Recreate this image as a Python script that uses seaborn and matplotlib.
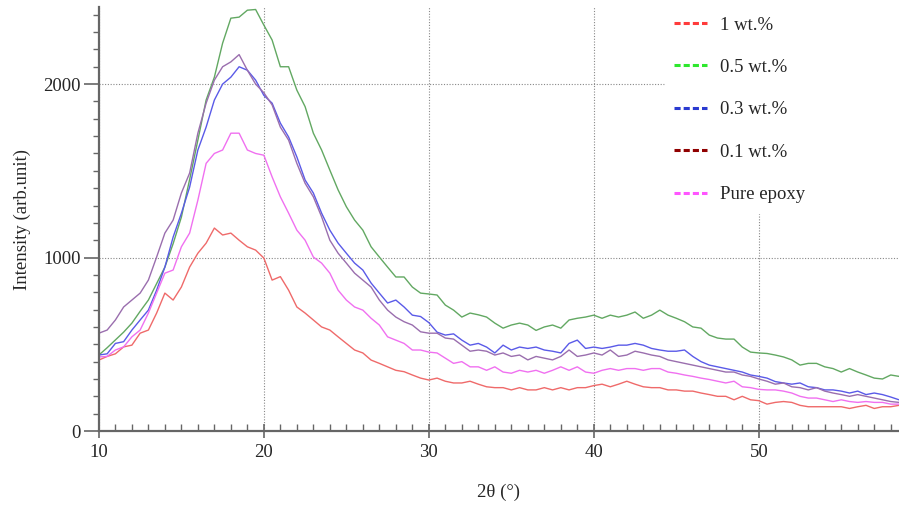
import numpy as np
import pandas as pd
import matplotlib
matplotlib.use("Agg")
import matplotlib.pyplot as plt
from matplotlib.lines import Line2D
from matplotlib.ticker import MultipleLocator
import seaborn as sns

# 2theta grid (deg)
two_theta = np.arange(10, 58.51, 0.5)

red_1wt = [409, 430, 445, 485, 495, 564, 582, 680, 795, 755, 830, 945, 1025, 1083, 1170, 1130,
           1141, 1100, 1062, 1043, 997, 870, 890, 812, 715, 680, 640, 600, 582, 543, 505, 467,
           450, 409, 390, 370, 350, 342, 323, 305, 294, 305, 287, 277, 277, 287, 270, 255,
           250, 250, 237, 250, 237, 237, 250, 237, 250, 237, 250, 250, 262, 270, 255, 270,
           287, 270, 255, 250, 250, 237, 237, 230, 230, 219, 210, 200, 200, 180, 200, 180,
           175, 155, 165, 170, 165, 148, 140, 140, 140, 140, 140, 130, 140, 148, 130, 140,
           140, 148]

green_05wt = [438, 480, 525, 570, 622, 690, 755, 850, 945, 1080, 1233, 1450, 1677, 1908, 2040, 2236,
              2380, 2386, 2426, 2430, 2340, 2254, 2100, 2100, 1965, 1870, 1717, 1620, 1504, 1390, 1293, 1216,
              1158, 1062, 1003, 945, 888, 888, 830, 795, 790, 784, 726, 697, 657, 680, 670, 657,
              622, 593, 611, 622, 611, 580, 600, 611, 593, 640, 650, 657, 668, 650, 668, 657,
              668, 686, 650, 668, 697, 668, 650, 630, 600, 593, 553, 536, 530, 530, 484, 455,
              450, 447, 438, 427, 410, 380, 390, 390, 370, 360, 340, 360, 340, 323, 305, 300,
              323, 315]

blue_03wt = [438, 445, 505, 515, 582, 640, 697, 812, 945, 1118, 1255, 1406, 1620, 1752, 1908, 2000,
             2040, 2100, 2080, 2023, 1935, 1890, 1775, 1695, 1580, 1447, 1372, 1256, 1158, 1083, 1025, 968,
             928, 853, 795, 738, 755, 715, 668, 660, 625, 570, 553, 560, 524, 495, 505, 484,
             450, 495, 467, 484, 476, 484, 467, 460, 450, 505, 524, 476, 484, 476, 484, 495,
             495, 505, 495, 476, 467, 460, 460, 467, 430, 400, 380, 370, 360, 350, 340, 323,
             315, 305, 285, 277, 270, 277, 255, 250, 237, 237, 230, 219, 230, 210, 219, 210,
             196, 180]

purple_01wt = [564, 582, 640, 715, 755, 795, 870, 1003, 1141, 1216, 1372, 1487, 1717, 1890, 2023, 2100,
               2128, 2170, 2080, 2000, 1950, 1880, 1752, 1677, 1543, 1428, 1350, 1235, 1100, 1025, 968, 910,
               870, 830, 755, 697, 657, 630, 611, 572, 564, 564, 536, 530, 495, 460, 467, 460,
               438, 450, 430, 438, 410, 430, 420, 410, 430, 467, 430, 438, 450, 438, 467, 430,
               438, 460, 450, 438, 430, 410, 400, 390, 380, 370, 360, 350, 340, 340, 323, 315,
               300, 287, 270, 277, 255, 250, 237, 250, 230, 219, 210, 200, 210, 200, 190, 180,
               170, 165]

pink_epoxy = [427, 430, 467, 485, 543, 582, 680, 795, 910, 928, 1062, 1141, 1331, 1543, 1600, 1620,
              1717, 1717, 1620, 1600, 1590, 1465, 1350, 1256, 1158, 1100, 1003, 968, 910, 812, 755, 715,
              697, 650, 611, 543, 524, 505, 467, 467, 455, 450, 420, 390, 400, 370, 370, 350,
              370, 340, 333, 350, 340, 350, 333, 350, 370, 350, 370, 340, 333, 350, 360, 350,
              360, 360, 350, 360, 360, 340, 333, 323, 315, 305, 297, 287, 277, 287, 255, 250,
              240, 237, 237, 230, 219, 200, 190, 190, 180, 170, 180, 170, 165, 170, 165, 165,
              155, 155]

labels = ["1 wt.%", "0.5 wt.%", "0.3 wt.%", "0.1 wt.%", "Pure epoxy"]
series = [red_1wt, green_05wt, blue_03wt, purple_01wt, pink_epoxy]
line_colors = ["#ef6a6a", "#62a862", "#5a5ae8", "#9a6eae", "#f070f0"]
legend_colors = ["#ff3b3b", "#2ee82e", "#2a3ad0", "#900000", "#ff55ff"]

df = pd.concat([pd.DataFrame({"two_theta": two_theta, "intensity": vals, "sample": lab})
                for lab, vals in zip(labels, series)], ignore_index=True)

sns.set_theme(style="white")
plt.rcParams["font.family"] = ["Liberation Serif", "DejaVu Serif"]

fs = 13.5
fig = plt.figure(figsize=(8.99, 5.05), dpi=100)
ax = fig.add_axes([0.110, 0.1465, 0.890, 0.8395])

sns.lineplot(data=df, x="two_theta", y="intensity", hue="sample", hue_order=labels,
             palette=line_colors, linewidth=1.0, legend=False, ax=ax)

ax.set_xlim(10, 58.5)
ax.set_ylim(0, 2444)
ax.xaxis.set_major_locator(MultipleLocator(10))
ax.xaxis.set_minor_locator(MultipleLocator(1))
ax.yaxis.set_major_locator(MultipleLocator(1000))
ax.yaxis.set_minor_locator(MultipleLocator(100))

ax.grid(True, which="major", color="#888888", linestyle=(0, (1, 1.5)), linewidth=0.8)
for s in ["top", "right"]:
    ax.spines[s].set_visible(False)
for s in ["left", "bottom"]:
    ax.spines[s].set_color("#666666")
    ax.spines[s].set_linewidth(1.6)

ax.tick_params(axis="x", which="major", direction="inout", length=10, width=1.2,
               color="#666666", labelsize=fs, pad=4, bottom=True)
ax.tick_params(axis="x", which="minor", direction="in", length=5, width=1,
               color="#666666", bottom=True)
ax.tick_params(axis="y", which="major", direction="out", length=11, width=1.2,
               color="#666666", labelsize=fs, pad=2, left=True)
ax.tick_params(axis="y", which="minor", direction="out", length=4, width=1,
               color="#666666", left=True)

ax.set_xlabel("2θ (°)", fontsize=fs, labelpad=17)
ax.set_ylabel("Intensity (arb.unit)", fontsize=fs, labelpad=9)

handles = [Line2D([0], [0], color=c, linestyle=(0, (2, 1)), linewidth=2.2) for c in legend_colors]
leg = ax.legend(handles, labels, loc="upper left", bbox_to_anchor=(0.7075, 0.0, 0.2925, 1.0),
                mode="expand", frameon=True, fancybox=False, framealpha=1, facecolor="white",
                edgecolor="white", fontsize=fs, labelspacing=1.35, handlelength=1.75,
                handletextpad=0.7, borderpad=0.5, borderaxespad=0)
leg.set_zorder(5)

fig.savefig("out.png", dpi=100)
